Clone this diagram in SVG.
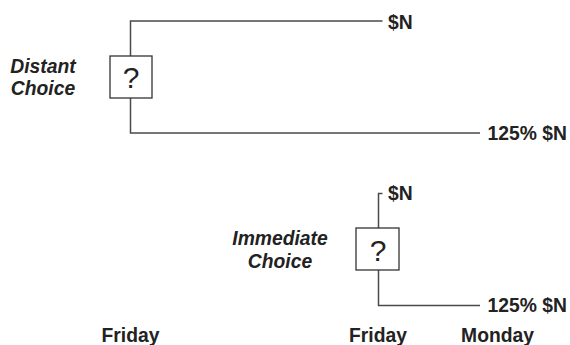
<svg xmlns="http://www.w3.org/2000/svg" width="570" height="345" viewBox="0 0 570 345">
<style>
.ln{fill:none;stroke:#4a4a4a;stroke-width:1.5}
.bx{fill:#fff;stroke:#333;stroke-width:1.3}
.q{font-family:"Liberation Sans",Arial,sans-serif;font-size:30px;fill:#222;text-anchor:middle}
.lab{font-family:"Liberation Sans",Arial,sans-serif;font-size:19.3px;font-weight:bold;fill:#222}
.it{font-family:"Liberation Sans",Arial,sans-serif;font-size:19.3px;font-weight:bold;font-style:italic;fill:#222;text-anchor:middle}
.ax{font-family:"Liberation Sans",Arial,sans-serif;font-size:19.3px;font-weight:bold;fill:#222;text-anchor:middle}
</style>
<rect width="570" height="345" fill="#fff"/>
<g id="connectors">
<polyline class="ln" points="382.5,21 130.5,21 130.5,56"/>
<polyline class="ln" points="130.5,98 130.5,133 480,133"/>
<polyline class="ln" points="382.5,193.5 378.5,193.5 378.5,228"/>
<polyline class="ln" points="378.5,270 378.5,305.5 480,305.5"/>
</g>
<g id="distant-choice">
<rect class="bx" x="110" y="56" width="42" height="42"/>
<text class="q" x="131" y="88">?</text>
</g>
<g id="distant-label">
<text class="it" x="43" y="72.5">Distant</text>
<text class="it" x="43" y="95">Choice</text>
</g>
<g id="distant-sn"><text class="lab" x="388" y="28.5">$N</text></g>
<g id="distant-125"><text class="lab" x="487.5" y="139.5">125% $N</text></g>
<g id="immediate-choice">
<rect class="bx" x="356" y="228" width="43" height="42"/>
<text class="q" x="378" y="261">?</text>
</g>
<g id="immediate-label">
<text class="it" x="280" y="245">Immediate</text>
<text class="it" x="280" y="268">Choice</text>
</g>
<g id="immediate-sn"><text class="lab" x="388" y="200">$N</text></g>
<g id="immediate-125"><text class="lab" x="487.5" y="312">125% $N</text></g>
<g id="axis">
<text class="ax" x="130.5" y="341.5">Friday</text>
<text class="ax" x="378" y="341.5">Friday</text>
<text class="ax" x="497.5" y="341.5">Monday</text>
</g>
</svg>
